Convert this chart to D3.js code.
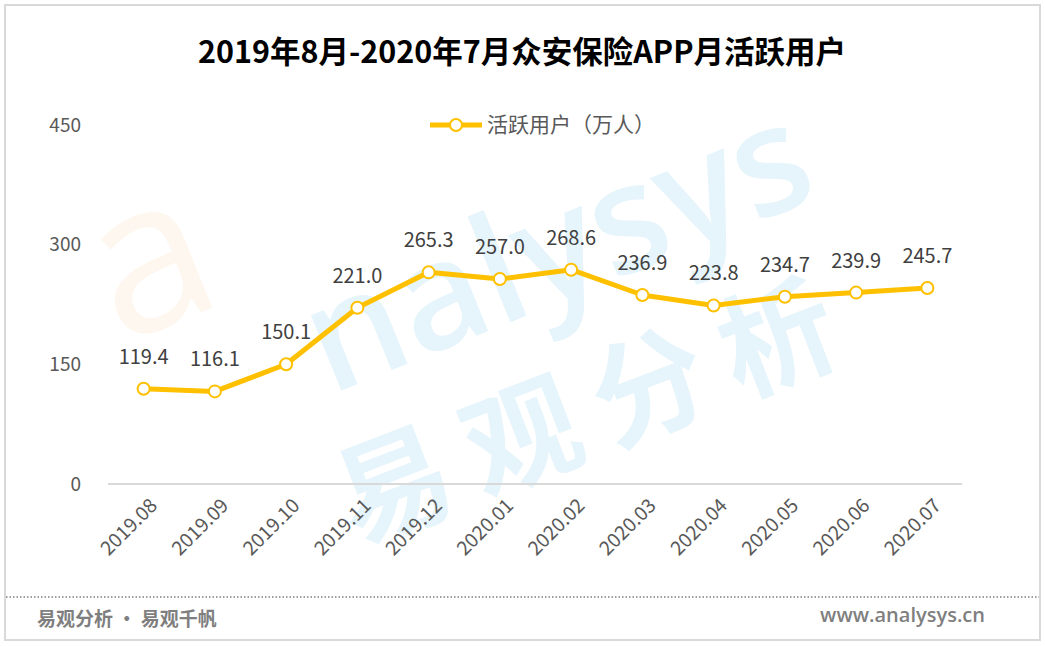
<!DOCTYPE html>
<html><head><meta charset="utf-8">
<script src="https://cdn.jsdelivr.net/npm/d3@7"></script>
<style>html,body{margin:0;padding:0;background:#fff;}svg{display:block;}</style>
</head><body>
<script>
const months = ["2019.08","2019.09","2019.10","2019.11","2019.12","2020.01","2020.02","2020.03","2020.04","2020.05","2020.06","2020.07"];
const activeUsers = [119.4,116.1,150.1,221.0,265.3,257.0,268.6,236.9,223.8,234.7,239.9,245.7];
const yTicks = [0,150,300,450];
const title = "2019年8月-2020年7月众安保险APP月活跃用户";
const seriesName = "活跃用户（万人）";

const W = 1045, H = 646;
const svg = d3.select("body").append("svg").attr("width", W).attr("height", H);
const font = "'Noto Sans CJK SC','Noto Sans',sans-serif";

svg.append("rect").attr("x",0).attr("y",0).attr("width",W).attr("height",H).attr("fill","#fff");
svg.append("rect").attr("x",5).attr("y",5).attr("width",1035).attr("height",635)
  .attr("fill","none").attr("stroke","#d9d9d9").attr("stroke-width",2);

// watermark
const wm = svg.append("g").attr("pointer-events","none");
wm.append("text").attr("transform","translate(120,345) rotate(-22)")
  .attr("font-family","'Open Sans',sans-serif").attr("font-weight",400)
  .attr("font-size",210).attr("fill","#fef7ef").text("a");
wm.append("text").attr("transform","translate(330,395) rotate(-22)")
  .attr("font-family","'Open Sans',sans-serif").attr("font-weight",600)
  .attr("font-size",150).attr("fill","#e6f4fb").text("nalysys");
wm.append("text").attr("transform","translate(355,545) rotate(-21)")
  .attr("font-family",font).attr("font-weight",700)
  .attr("font-size",115).attr("letter-spacing",22).attr("fill","#e6f4fb")
  .text("易观分析");

svg.append("text").attr("x",522).attr("y",63).attr("text-anchor","middle")
  .attr("font-family",font).attr("font-weight",700).attr("font-size",30.5)
  .attr("fill","#000").text(title);

const x = d3.scaleBand().domain(months).range([108,963]);
const y = d3.scaleLinear().domain([0,450]).range([484,125]);

// y tick labels
svg.append("g").selectAll("text").data(yTicks).join("text")
  .attr("x",81).attr("y",d=>y(d)).attr("dy","0.35em").attr("text-anchor","end")
  .attr("font-family",font).attr("font-size",19).attr("fill","#595959").text(d=>d);

// x axis line
svg.append("line").attr("x1",108).attr("x2",962).attr("y1",y(0)).attr("y2",y(0))
  .attr("stroke","#d9d9d9").attr("stroke-width",2);

// x labels
svg.append("g").selectAll("text").data(months).join("text")
  .attr("transform",d=>`translate(${x(d)+x.bandwidth()/2+10},${y(0)+18}) rotate(-45)`)
  .attr("text-anchor","end").attr("dy","0.35em")
  .attr("font-family",font).attr("font-size",19.5).attr("fill","#595959").text(d=>d);

const cx = (d,i)=>x(months[i])+x.bandwidth()/2;
const line = d3.line().x((d,i)=>cx(d,i)).y(d=>y(d));
svg.append("path").datum(activeUsers).attr("d",line).attr("fill","none")
  .attr("stroke","#FFC000").attr("stroke-width",5).attr("stroke-linejoin","round");
svg.append("g").selectAll("circle").data(activeUsers).join("circle")
  .attr("cx",cx).attr("cy",d=>y(d)).attr("r",6)
  .attr("fill","#fff").attr("stroke","#FFC000").attr("stroke-width",2);
svg.append("g").selectAll("text").data(activeUsers).join("text")
  .attr("x",cx).attr("y",d=>y(d)-25).attr("text-anchor","middle")
  .attr("font-family",font).attr("font-size",20).attr("fill","#404040").text(d=>d.toFixed(1));

// legend
const lg = svg.append("g");
lg.append("line").attr("x1",430).attr("x2",482).attr("y1",125).attr("y2",125)
  .attr("stroke","#FFC000").attr("stroke-width",5);
lg.append("circle").attr("cx",456).attr("cy",125).attr("r",6)
  .attr("fill","#fff").attr("stroke","#FFC000").attr("stroke-width",2);
lg.append("text").attr("x",487).attr("y",125).attr("dy","0.35em")
  .attr("font-family",font).attr("font-size",21).attr("fill","#595959").text(seriesName);

// footer
svg.append("line").attr("x1",6).attr("x2",1039).attr("y1",597).attr("y2",597)
  .attr("stroke","#7f7f7f").attr("stroke-width",1.5).attr("stroke-dasharray","1.5,2");
svg.append("text").attr("x",37).attr("y",619).attr("dy","0.35em")
  .attr("font-family",font).attr("font-weight",700).attr("font-size",19)
  .attr("fill","#7f7f7f").text("易观分析 · 易观千帆");
svg.append("text").attr("x",985).attr("y",615).attr("dy","0.35em").attr("text-anchor","end")
  .attr("font-family","'Open Sans',sans-serif").attr("font-weight",600).attr("font-size",20)
  .attr("fill","#7f7f7f").text("www.analysys.cn");
</script>
</body></html>
